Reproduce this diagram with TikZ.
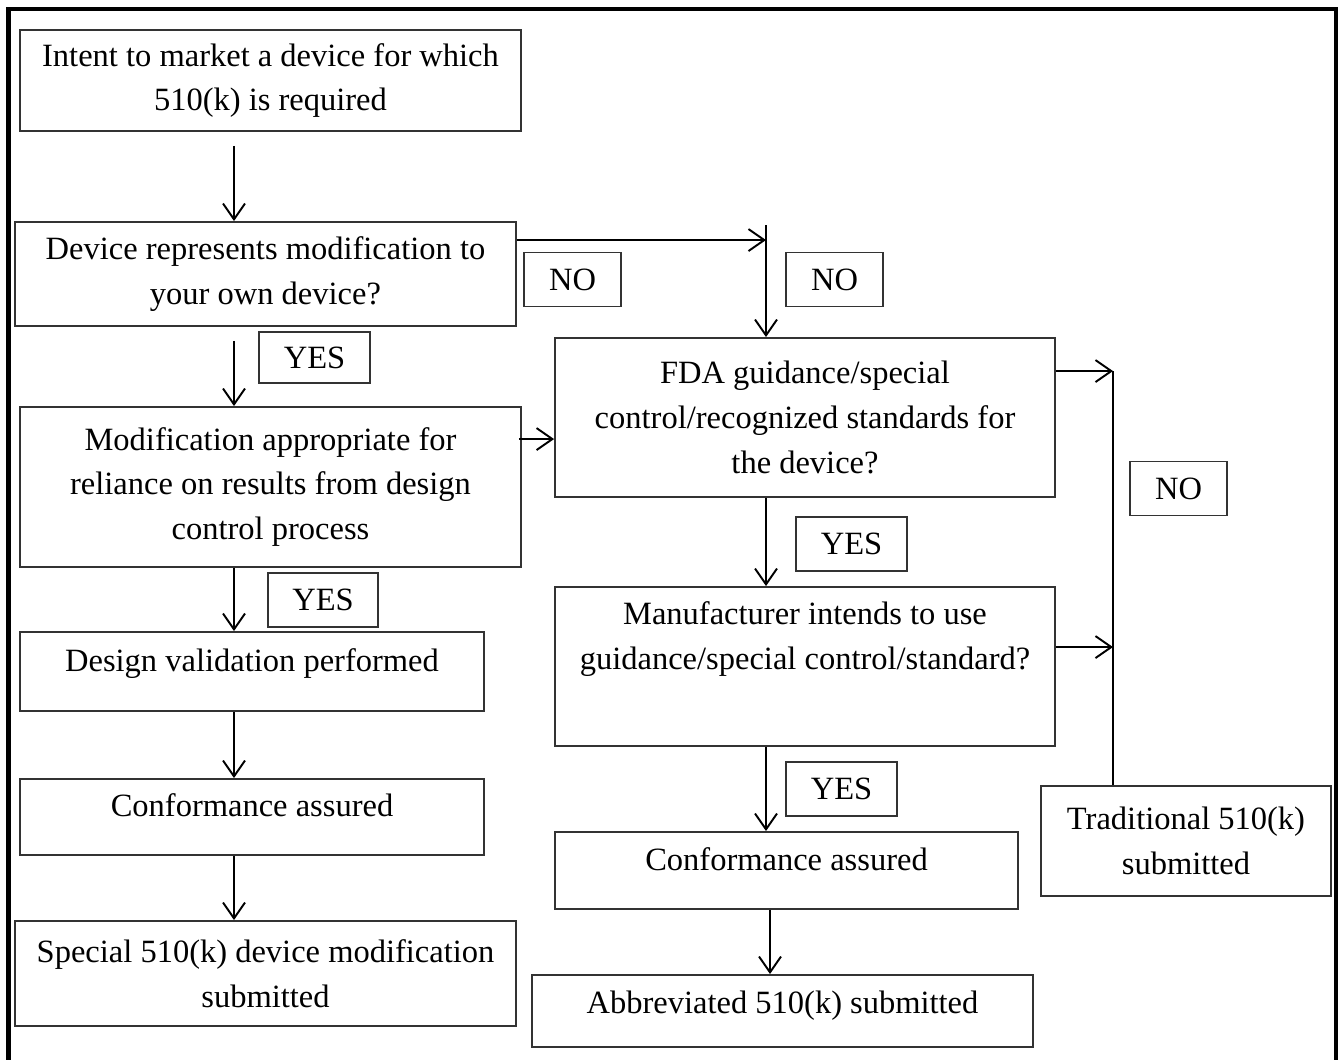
\documentclass[tikz,border=0pt]{standalone}
\usepackage{fontspec}
\setmainfont{Liberation Serif}
\usepackage{tikz}
\usetikzlibrary{positioning,arrows.meta,calc}

\begin{document}
\begin{tikzpicture}[
    x=0.02cm, y=-0.02cm,
    >={Straight Barb[length=9pt,width=12.5pt]},
    font=\fontsize{18.5}{25.5}\selectfont,
    box/.style={
        draw=black!80,
        line width=1.1pt,
        align=center,
        inner sep=2pt
    },
    oneline/.style={
        text height=13pt,
        text depth=#1
    },
    tag/.style={
        draw=black!80,
        line width=1.1pt,
        minimum height=1.08cm,
        inner sep=0pt
    },
    arr/.style={->, line width=1.1pt}
]

\useasboundingbox (0,0) rectangle (1338,1059);
\draw[line width=2.3pt] (8.5,1070) -- (8.5,9) -- (1336.5,9) -- (1336.5,1070);

\coordinate (lx) at (234,0);
\coordinate (mx) at (766,0);
\coordinate (ax) at (770,0);
\coordinate (tx) at (1113,0);

\node[box, minimum width=10.02cm, minimum height=2.02cm] (intent) at (270.5,80.5)
{Intent to market a device for which\\510(k) is required}; 

\node[box, minimum width=10.02cm, minimum height=2.08cm] (ownmod) at (265.5,274)
{Device represents modification to\\your own device?}; 

\node[box, minimum width=10.02cm, minimum height=3.2cm] (reliance) at (270.5,487)
{Modification appropriate for\\reliance on results from design\\control process}; 

\node[box, oneline=13.3pt, minimum width=9.28cm, minimum height=1.58cm] (valid) at (252,671.5)
{Design validation performed}; 

\node[box, oneline=13.3pt, minimum width=9.28cm, minimum height=1.52cm] (confleft) at (252,817)
{Conformance assured}; 

\node[box, minimum width=10.02cm, minimum height=2.1cm] (special) at (265.5,973.5)
{Special 510(k) device modification\\submitted}; 

\node[box, minimum width=10.0cm, minimum height=3.18cm] (guide) at (805,417.5)
{FDA guidance/special\\control/recognized standards for\\the device?}; 

\node[box, text depth=35pt, minimum width=10.0cm, minimum height=3.18cm] (useguide) at (805,666.5)
{Manufacturer intends to use\\guidance/special control/standard?}; 

\node[box, oneline=13.3pt, minimum width=9.26cm, minimum height=1.54cm] (confright) at (786.5,870.5)
{Conformance assured}; 

\node[box, oneline=10pt, minimum width=10.02cm, minimum height=1.44cm] (abbrev) at (782.5,1011)
{Abbreviated 510(k) submitted}; 

\node[box, minimum width=5.8cm, minimum height=2.2cm] (trad) at (1186,841)
{Traditional 510(k)\\submitted}; 

\node[tag, minimum width=1.94cm] (noown) at (572.5,279.5) {NO};
\node[tag, minimum width=1.94cm] (nofda) at (834.5,279.5) {NO};
\node[tag, minimum width=1.94cm] (notrad) at (1178.5,488.5) {NO};
\node[tag, minimum width=2.22cm, minimum height=1.02cm] (yesown) at (314.5,357.5) {YES};
\node[tag, minimum width=2.2cm] (yesrel) at (323,600) {YES};
\node[tag, minimum width=2.22cm] (yesfda) at (851.5,544) {YES};
\node[tag, minimum width=2.22cm] (yesuse) at (841.5,789) {YES};

\draw[arr] ($(intent.south -| lx)+(0,14)$) -- (ownmod.north -| lx);
\draw[arr] ($(ownmod.south -| lx)+(0,14)$) -- (reliance.north -| lx);
\draw[arr] (reliance.south -| lx) -- (valid.north -| lx);
\draw[arr] (valid.south -| lx) -- (confleft.north -| lx);
\draw[arr] (confleft.south -| lx) -- (special.north -| lx);

\draw[arr] ($(ownmod.north east)+(0,19)$) -- ($(ownmod.north east -| mx)+(0,19)$);
\draw[arr] ($(ownmod.north -| mx)+(0,4)$) -- (guide.north -| mx);
\draw[arr] ($(reliance.north east)+(-3,33)$) -- ($(reliance.north east -| guide.west)+(0,33)$);
\draw[arr] (guide.south -| mx) -- (useguide.north -| mx);
\draw[arr] (useguide.south -| mx) -- (confright.north -| mx);
\draw[arr] (confright.south -| ax) -- (abbrev.north -| ax);

\draw[arr] ($(guide.north east)+(0,34)$) -- ($(guide.north east -| tx)+(0,34)$);
\draw[arr] ($(useguide.north east)+(0,61)$) -- ($(useguide.north east -| tx)+(0,61)$);
\draw[line width=1.1pt] ($(guide.north east -| tx)+(0,34)$) -- (trad.north -| tx);

\end{tikzpicture}
\end{document}
